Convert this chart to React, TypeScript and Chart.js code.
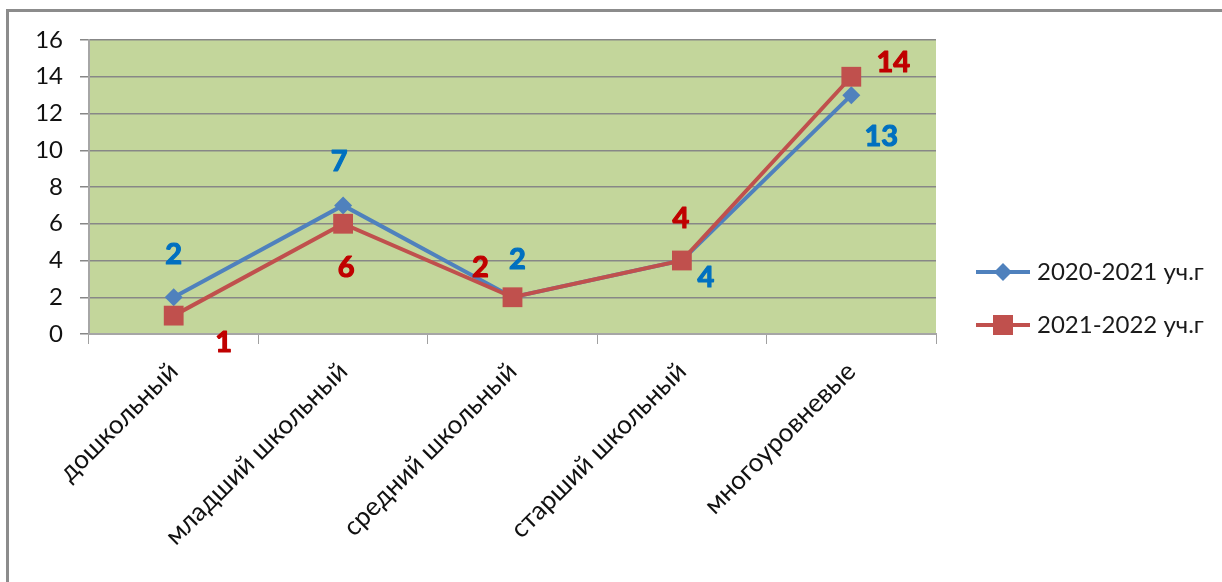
import React, { useEffect, useRef } from "react";
import { Chart, registerables } from "chart.js";

Chart.register(...registerables);

const categories = ["дошкольный", "младший школьный", "средний школьный", "старший школьный", "многоуровневые"];
const series2020 = [2, 7, 2, 4, 13];
const series2021 = [1, 6, 2, 4, 14];
const seriesNames = ["2020-2021 уч.г", "2021-2022 уч.г"];

// label offsets (style only)
const labelOffsets2020 = [[0, -43], [-4, -44], [5, -38], [24, 17], [30, 42]];
const labelOffsets2021 = [[50, 27], [3, 44], [-32, -30], [-1, -42], [42, -14]];

const FONT = "Lato, 'Open Sans', sans-serif";

export default function App() {
  const ref = useRef<HTMLCanvasElement>(null);
  useEffect(() => {
    const canvas = ref.current!;
    const bgPlugin = {
      id: "bg",
      beforeDraw(chart: any) {
        const { ctx, chartArea } = chart;
        ctx.save();
        ctx.fillStyle = "#ffffff";
        ctx.fillRect(0, 0, chart.width, chart.height);
        ctx.fillStyle = "#C3D69B";
        ctx.fillRect(chartArea.left, chartArea.top, chartArea.right - chartArea.left, chartArea.bottom - chartArea.top);
        ctx.strokeStyle = "#8c8c8c";
        ctx.lineWidth = 3;
        ctx.beginPath();
        ctx.moveTo(7.5, 582);
        ctx.lineTo(7.5, 10.5);
        ctx.lineTo(1222, 10.5);
        ctx.stroke();
        ctx.restore();
      },
    };
    const labelsPlugin = {
      id: "vlabels",
      afterDatasetsDraw(chart: any) {
        const { ctx } = chart;
        ctx.save();
        ctx.font = `bold 29px ${FONT}`;
        ctx.textAlign = "center";
        ctx.textBaseline = "middle";
        ctx.lineWidth = 1.2;
        ctx.lineJoin = "round";
        chart.data.datasets.forEach((ds: any, i: number) => {
          const meta = chart.getDatasetMeta(i);
          const offs = i === 0 ? labelOffsets2020 : labelOffsets2021;
          ctx.fillStyle = ds.labelColor;
          ctx.strokeStyle = ds.labelColor;
          meta.data.forEach((pt: any, j: number) => {
            const x = pt.x + offs[j][0];
            const y = pt.y + offs[j][1];
            ctx.fillText(String(ds.data[j]), x, y);
            ctx.strokeText(String(ds.data[j]), x, y);
          });
        });
        ctx.restore();
      },
    };
    const legendPlugin = {
      id: "customLegend",
      afterDraw(chart: any) {
        const { ctx } = chart;
        ctx.save();
        chart.data.datasets.forEach((ds: any, i: number) => {
          const y = 272 + i * 53;
          ctx.strokeStyle = ds.borderColor;
          ctx.lineWidth = 4;
          ctx.beginPath();
          ctx.moveTo(976, y);
          ctx.lineTo(1030, y);
          ctx.stroke();
          ctx.fillStyle = ds.backgroundColor;
          ctx.beginPath();
          if (ds.pointStyle === "rectRot") {
            ctx.moveTo(1003, y - 9);
            ctx.lineTo(1012, y);
            ctx.lineTo(1003, y + 9);
            ctx.lineTo(994, y);
            ctx.closePath();
          } else {
            ctx.rect(993, y - 10, 20, 20);
          }
          ctx.fill();
          ctx.fillStyle = "#1a1a1a";
          ctx.font = `24px ${FONT}`;
          ctx.textAlign = "left";
          ctx.textBaseline = "middle";
          ctx.fillText(ds.label, 1037, y);
        });
        ctx.restore();
      },
    };
    const chart = new Chart(canvas, {
      type: "line",
      data: {
        labels: categories,
        datasets: [
          {
            label: seriesNames[0],
            data: series2020,
            borderColor: "#4F81BD",
            backgroundColor: "#4F81BD",
            borderWidth: 4,
            pointStyle: "rectRot",
            pointRadius: 9,
            pointBorderWidth: 0,
            order: 1,
            labelColor: "#0070C0",
          } as any,
          {
            label: seriesNames[1],
            data: series2021,
            borderColor: "#C0504D",
            backgroundColor: "#C0504D",
            borderWidth: 4,
            pointStyle: "rect",
            pointRadius: 14,
            pointBorderWidth: 0,
            order: 0,
            labelColor: "#C00000",
          } as any,
        ],
      },
      options: {
        responsive: false,
        animation: false,
        devicePixelRatio: 1,
        layout: { padding: { top: 40, right: 286, left: 0, bottom: 0 } },
        plugins: { legend: { display: false }, tooltip: { enabled: false } },
        scales: {
          x: {
            offset: true,
            grid: { drawOnChartArea: false, drawTicks: true, tickLength: 10, color: "#a0a0a0", offset: true },
            border: { display: true, color: "#a6a6a6", width: 2 },
            ticks: {
              maxRotation: 45,
              minRotation: 45,
              autoSkip: false,
              padding: 12,
              color: "#111",
              font: { family: FONT, size: 26 },
            },
            afterFit(s: any) {
              s.height = 248;
            },
          },
          y: {
            min: 0,
            max: 16,
            ticks: { stepSize: 2, padding: 17, color: "#111", font: { family: FONT, size: 24 } },
            grid: { color: "#878787", lineWidth: 1.5, drawTicks: true, tickLength: 9 },
            border: { display: true, color: "#a6a6a6", width: 2 },
            afterFit(s: any) {
              s.width = 89;
            },
          },
        },
      },
      plugins: [bgPlugin, labelsPlugin, legendPlugin],
    });
    return () => chart.destroy();
  }, []);
  return (
    <div style={{ position: "absolute", left: 0, top: 0, width: 1222, height: 582 }}>
      <canvas ref={ref} width={1222} height={582} />
    </div>
  );
}
